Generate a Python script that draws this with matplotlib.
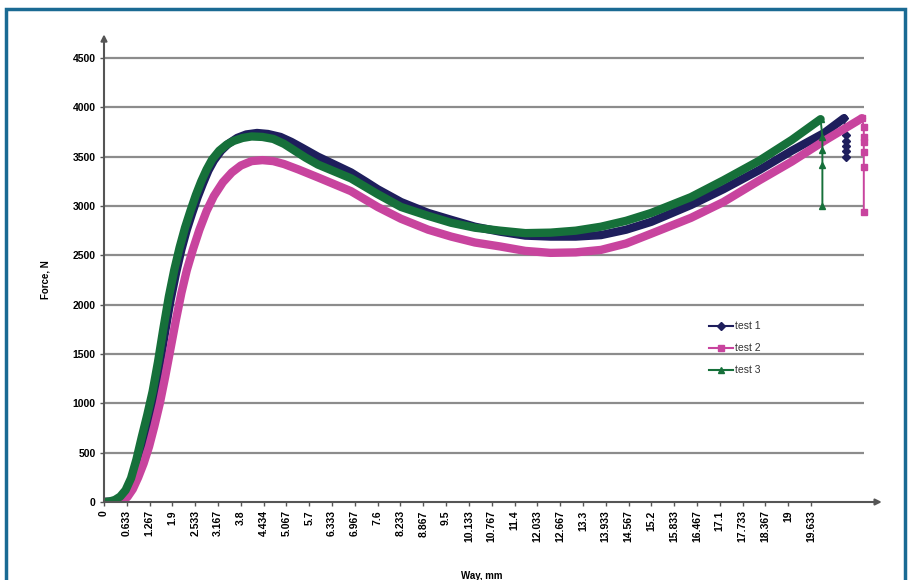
import matplotlib.pyplot as plt
from matplotlib.lines import Line2D
from matplotlib.patches import Rectangle

plt.rcParams['font.family'] = ['Liberation Sans', 'DejaVu Sans']

# category labels on the way axis (mm)
tick_pos = [k * 19 / 30 for k in range(32)]
tick_labels = ['0', '0.633', '1.267', '1.9', '2.533', '3.167', '3.8', '4.434',
               '5.067', '5.7', '6.333', '6.967', '7.6', '8.233', '8.867', '9.5',
               '10.133', '10.767', '11.4', '12.033', '12.667', '13.3', '13.933',
               '14.567', '15.2', '15.833', '16.467', '17.1', '17.733', '18.367',
               '19', '19.633']
force_ticks = [0, 500, 1000, 1500, 2000, 2500, 3000, 3500, 4000, 4500]

# test 1
way1 = [0, 0.2, 0.35, 0.5, 0.65, 0.8, 0.95, 1.1, 1.25, 1.4, 1.55, 1.7, 1.85,
        2.0, 2.15, 2.3, 2.45, 2.6, 2.75, 2.9, 3.05, 3.25, 3.45, 3.7, 3.95,
        4.25, 4.55, 4.9, 5.2, 5.5, 5.94, 6.4, 6.86, 7.3, 7.6, 8.0, 8.25, 9.0,
        9.64, 10.3, 11.0, 11.7, 12.4, 13.1, 13.8, 14.5, 15.2, 16.3, 17.2, 18.2,
        19.1, 20.0, 20.55]
force1 = [0, 5, 18, 50, 110, 220, 400, 620, 850, 1100, 1400, 1730, 2050,
          2320, 2560, 2760, 2930, 3090, 3230, 3360, 3460, 3560, 3630, 3690, 3725,
          3740, 3730, 3700, 3650, 3590, 3500, 3420, 3340, 3240, 3170, 3090, 3040,
          2930, 2860, 2790, 2740, 2700, 2690, 2690, 2705, 2760, 2840, 3010, 3170,
          3365, 3560, 3740, 3890]
drop_way1 = [20.55, 20.6, 20.6, 20.6, 20.6, 20.6]
drop_force1 = [3890, 3720, 3660, 3610, 3560, 3500]

# test 2
way2 = [0, 0.3, 0.5, 0.65, 0.8, 0.95, 1.1, 1.25, 1.4, 1.55, 1.7, 1.85, 2.0,
        2.15, 2.3, 2.47, 2.65, 2.85, 3.05, 3.3, 3.55, 3.8, 4.1, 4.4, 4.7, 5.0,
        5.4, 5.94, 6.4, 6.86, 7.6, 8.25, 9.0, 9.64, 10.3, 11.0, 11.7, 12.4,
        13.1, 13.8, 14.5, 15.2, 16.3, 17.2, 18.2, 19.1, 20.0, 21.05]
force2 = [0, 3, 15, 50, 130, 250, 390, 560, 770, 1000, 1270, 1560, 1850,
          2120, 2350, 2560, 2760, 2950, 3100, 3240, 3340, 3410, 3455, 3465, 3455,
          3425, 3370, 3290, 3220, 3150, 2990, 2870, 2760, 2690, 2630, 2590, 2545,
          2525, 2530, 2555, 2620, 2720, 2880, 3040, 3260, 3450, 3660, 3890]
drop_way2 = [21.05, 21.1, 21.1, 21.1, 21.1, 21.1, 21.1]
drop_force2 = [3890, 3800, 3700, 3650, 3550, 3400, 2940]

# test 3
way3 = [0, 0.15, 0.3, 0.45, 0.6, 0.75, 0.9, 1.05, 1.2, 1.35, 1.5, 1.65, 1.8,
        1.95, 2.1, 2.25, 2.4, 2.55, 2.7, 2.85, 3.0, 3.2, 3.4, 3.6, 3.85, 4.1,
        4.4, 4.7, 5.0, 5.3, 5.6, 5.94, 6.4, 6.86, 7.6, 8.25, 9.0, 9.64, 10.3,
        11.0, 11.7, 12.4, 13.1, 13.8, 14.5, 15.2, 16.3, 17.2, 18.2, 19.1, 19.9]
force3 = [0, 5, 20, 55, 120, 240, 430, 660, 880, 1120, 1420, 1760, 2080,
          2350, 2580, 2780, 2950, 3110, 3250, 3370, 3470, 3560, 3620, 3660, 3690,
          3705, 3700, 3680, 3630, 3560, 3490, 3420, 3350, 3280, 3120, 2990, 2900,
          2830, 2780, 2750, 2725, 2730, 2750, 2790, 2850, 2930, 3090, 3260, 3460,
          3670, 3880]
drop_way3 = [19.9, 19.95, 19.95, 19.95, 19.95]
drop_force3 = [3880, 3700, 3570, 3420, 3000]

c1 = '#1e1e5c'
c2 = '#c8449e'
c3 = '#16703a'
grid_c = '#8c8c8c'
axis_c = '#555555'

fig = plt.figure(figsize=(9.14, 5.8), dpi=100)
ax = fig.add_axes([104 / 914, 78 / 580, 776 / 914, 466 / 580])
ax.set_xlim(0, 21.55)
ax.set_ylim(0, 4723)

# horizontal grid stops at the last category
ax.hlines(force_ticks[1:], 0, 21.1, color=grid_c, lw=1.6, zorder=1)

for way, force, dway, dforce, c, m in [
        (way1, force1, drop_way1, drop_force1, c1, 'D'),
        (way2, force2, drop_way2, drop_force2, c2, 's'),
        (way3, force3, drop_way3, drop_force3, c3, '^')]:
    ax.plot(way, force, color=c, lw=6, solid_capstyle='round',
            solid_joinstyle='round', zorder=3)
    ax.plot(dway, dforce, color=c, lw=1.4, marker=m, ms=4, zorder=3)

# axis lines with arrow heads
for sp in ax.spines.values():
    sp.set_visible(False)
ax.annotate('', xy=(21.6, 0), xytext=(0, 0), annotation_clip=False,
            arrowprops=dict(arrowstyle='-|>', color=axis_c, lw=1.5,
                            mutation_scale=9, shrinkA=0, shrinkB=0))
ax.annotate('', xy=(0, 4740), xytext=(0, 0), annotation_clip=False,
            arrowprops=dict(arrowstyle='-|>', color=axis_c, lw=1.5,
                            mutation_scale=9, shrinkA=0, shrinkB=0))

ax.set_yticks(force_ticks)
ax.set_yticklabels([str(v) for v in force_ticks], fontsize=7.5, fontweight='bold')
ax.set_xticks(tick_pos)
ax.set_xticklabels(tick_labels, rotation=90, fontsize=7.5, fontweight='bold')
ax.tick_params(axis='both', direction='out', length=3, width=1, color=axis_c, pad=3)

fig.text(46 / 914, 1 - 280 / 580, 'Force, N', rotation=90, ha='center',
         va='center', fontsize=7, fontweight='bold')
fig.text(482 / 914, 4 / 580, 'Way, mm', ha='center', va='center',
         fontsize=7, fontweight='bold')

handles = [Line2D([], [], color=c1, lw=1.5, marker='D', ms=4),
           Line2D([], [], color=c2, lw=1.5, marker='s', ms=4),
           Line2D([], [], color=c3, lw=1.5, marker='^', ms=4)]
fig.legend(handles, ['test 1', 'test 2', 'test 3'], loc='upper left',
           bbox_to_anchor=(700 / 914, 1 - 312 / 580), frameon=False,
           fontsize=7.5, handlelength=2.3, handletextpad=0.2,
           labelspacing=1.15, labelcolor='#333333')

# frame round the figure
fig.add_artist(Rectangle((6 / 914, -0.05), 899 / 914, 1 - 9 / 580 + 0.05,
                         transform=fig.transFigure, fill=False,
                         ec='#1a6a93', lw=2.5))

fig.savefig('out.png', dpi=100)
